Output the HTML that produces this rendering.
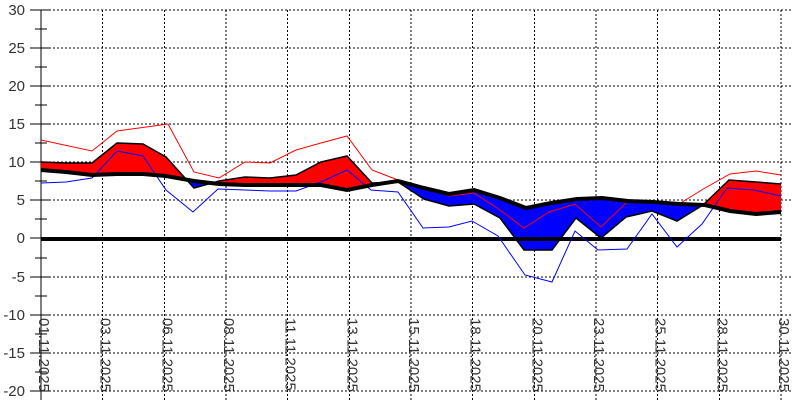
<!DOCTYPE html>
<html><head><meta charset="utf-8"><style>html,body{margin:0;padding:0;background:#fff}svg{display:block}</style></head>
<body>
<svg width="800" height="400" viewBox="0 0 800 400" xmlns="http://www.w3.org/2000/svg" font-family="Liberation Sans, sans-serif">
<defs>
<clipPath id="above"><polygon points="0,0 800,0 800,211 781,212 756,214 730,211 705,205 679,204 653,202 628,201 602,198 577,199 551,203 526,208 500,198 474,190 449,194 424,188 398,181 372,185 347,190 321,185 296,185 270,185 245,185 219,184 194,181 166,176 143,174 117,174 92,175 66,172 41,170 0,170"/></clipPath>
<clipPath id="below"><polygon points="0,400 800,400 800,211 781,212 756,214 730,211 705,205 679,204 653,202 628,201 602,198 577,199 551,203 526,208 500,198 474,190 449,194 424,188 398,181 372,185 347,190 321,185 296,185 270,185 245,185 219,184 194,181 166,176 143,174 117,174 92,175 66,172 41,170 0,170"/></clipPath>
</defs>
<g stroke="#000" stroke-width="1" stroke-dasharray="2,2" fill="none">
<line x1="41" y1="10" x2="792" y2="10"/><line x1="41" y1="48" x2="792" y2="48"/><line x1="41" y1="86" x2="792" y2="86"/><line x1="41" y1="124" x2="792" y2="124"/><line x1="41" y1="162" x2="792" y2="162"/><line x1="41" y1="200" x2="792" y2="200"/><line x1="41" y1="277" x2="792" y2="277"/><line x1="41" y1="315" x2="792" y2="315"/><line x1="41" y1="353" x2="792" y2="353"/><line x1="41" y1="391" x2="792" y2="391"/>
<line x1="102.5" y1="10" x2="102.5" y2="400"/><line x1="164.5" y1="10" x2="164.5" y2="400"/><line x1="226" y1="10" x2="226" y2="400"/><line x1="287.5" y1="10" x2="287.5" y2="400"/><line x1="349.5" y1="10" x2="349.5" y2="400"/><line x1="411" y1="10" x2="411" y2="400"/><line x1="472.5" y1="10" x2="472.5" y2="400"/><line x1="534.5" y1="10" x2="534.5" y2="400"/><line x1="596" y1="10" x2="596" y2="400"/><line x1="657.5" y1="10" x2="657.5" y2="400"/><line x1="719.5" y1="10" x2="719.5" y2="400"/><line x1="781" y1="10" x2="781" y2="400"/>
</g>
<g stroke="#000" stroke-width="1">
<line x1="41" y1="10" x2="41" y2="400"/>
<line x1="30" y1="10" x2="50" y2="10"/><line x1="30" y1="48" x2="50" y2="48"/><line x1="30" y1="86" x2="50" y2="86"/><line x1="30" y1="124" x2="50" y2="124"/><line x1="30" y1="162" x2="50" y2="162"/><line x1="30" y1="200" x2="50" y2="200"/><line x1="30" y1="238" x2="50" y2="238"/><line x1="30" y1="277" x2="50" y2="277"/><line x1="30" y1="315" x2="50" y2="315"/><line x1="30" y1="353" x2="50" y2="353"/><line x1="30" y1="391" x2="50" y2="391"/>
<line x1="35" y1="29" x2="47" y2="29"/><line x1="35" y1="67" x2="47" y2="67"/><line x1="35" y1="105" x2="47" y2="105"/><line x1="35" y1="143" x2="47" y2="143"/><line x1="35" y1="181" x2="47" y2="181"/><line x1="35" y1="219" x2="47" y2="219"/><line x1="35" y1="258" x2="47" y2="258"/><line x1="35" y1="296" x2="47" y2="296"/><line x1="35" y1="334" x2="47" y2="334"/><line x1="35" y1="372" x2="47" y2="372"/>
</g>
<g font-size="15" fill="#333" text-anchor="end">
<text x="25" y="15">30</text><text x="25" y="53">25</text><text x="25" y="91">20</text><text x="25" y="129">15</text><text x="25" y="167">10</text><text x="25" y="205">5</text><text x="25" y="243">0</text><text x="25" y="282">-5</text><text x="25" y="320">-10</text><text x="25" y="358">-15</text><text x="25" y="396">-20</text>
</g>
<polygon id="fillp" clip-path="url(#above)" fill="#ff0000" points="41,162 66,163 92,163 117,143 143,144 166,157 194,188 219,181 245,177 270,178 296,175 321,162 347,156 372,183 398,182 424,199 449,206 474,204 500,218 524,250 552,250 576,218 601,238 626,217 652,211 677,221 703,205 729,180 756,182 781,184 781,212 756,214 730,211 705,205 679,204 653,202 628,201 602,198 577,199 551,203 526,208 500,198 474,190 449,194 424,188 398,181 372,185 347,190 321,185 296,185 270,185 245,185 219,184 194,181 166,176 143,174 117,174 92,175 66,172 41,170"/>
<polygon clip-path="url(#below)" fill="#0000ff" points="41,162 66,163 92,163 117,143 143,144 166,157 194,188 219,181 245,177 270,178 296,175 321,162 347,156 372,183 398,182 424,199 449,206 474,204 500,218 524,250 552,250 576,218 601,238 626,217 652,211 677,221 703,205 729,180 756,182 781,184 781,212 756,214 730,211 705,205 679,204 653,202 628,201 602,198 577,199 551,203 526,208 500,198 474,190 449,194 424,188 398,181 372,185 347,190 321,185 296,185 270,185 245,185 219,184 194,181 166,176 143,174 117,174 92,175 66,172 41,170"/>
<polyline fill="none" stroke="#000" stroke-width="1.5" points="41,162 66,163 92,163 117,143 143,144 166,157 194,188 219,181 245,177 270,178 296,175 321,162 347,156 372,183 398,182 424,199 449,206 474,204 500,218 524,250 552,250 576,218 601,238 626,217 652,211 677,221 703,205 729,180 756,182 781,184"/>
<line x1="41" y1="239" x2="781" y2="239" stroke="#000" stroke-width="4"/>
<polyline fill="none" stroke="#ff0000" stroke-width="1" points="41,140 92,151 117,131 168,124 194,172 219,178 245,162 270,163 296,150 321,143 347,136 372,170 398,180 424,187 449,196 474,193 500,210 524,228 549,212 575,204 601,227 627,202 653,203 679,204 705,188 730,174 756,171 781,175"/>
<polyline fill="none" stroke="#0000ff" stroke-width="1" points="41,183 66,182 92,178 117,151 143,156 166,190 193,212 218,189 245,190 270,191 296,191 321,182 347,170 371,190 398,192 423,228 449,227 472,221 498,236 525,275 552,282 575,231 598,250 627,249 652,214 677,247 702,224 727,188 754,190 781,196"/>
<polyline fill="none" stroke="#000" stroke-width="4" points="41,170 66,172 92,175 117,174 143,174 166,176 194,181 219,184 245,185 270,185 296,185 321,185 347,190 372,185 398,181 424,188 449,194 474,190 500,198 526,208 551,203 577,199 602,198 628,201 653,202 679,204 705,205 730,211 756,214 781,212"/>
<g font-size="15" fill="#333">
<text transform="translate(39,318) rotate(90)">01.11.2025</text>
<text transform="translate(100.5,318) rotate(90)">03.11.2025</text>
<text transform="translate(162.5,318) rotate(90)">06.11.2025</text>
<text transform="translate(224,318) rotate(90)">08.11.2025</text>
<text transform="translate(285.5,318) rotate(90)">11.11.2025</text>
<text transform="translate(347.5,318) rotate(90)">13.11.2025</text>
<text transform="translate(409,318) rotate(90)">15.11.2025</text>
<text transform="translate(470.5,318) rotate(90)">18.11.2025</text>
<text transform="translate(532.5,318) rotate(90)">20.11.2025</text>
<text transform="translate(594,318) rotate(90)">23.11.2025</text>
<text transform="translate(655.5,318) rotate(90)">25.11.2025</text>
<text transform="translate(717.5,318) rotate(90)">28.11.2025</text>
<text transform="translate(779,318) rotate(90)">30.11.2025</text>
</g>
</svg>
</body></html>
